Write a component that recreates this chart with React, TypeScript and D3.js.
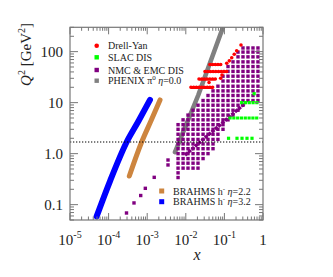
import React from "react";
import * as d3 from "d3";

// ---------- data (x, Q^2) ----------
const BRAHMS_32: [number, number][] = [
  [4.9e-5, 0.059], [1.09e-4, 0.29], [2.94e-4, 1.69], [5.96e-4, 4.36], [1.18e-3, 11.3],
];
const BRAHMS_22: [number, number][] = [
  [3.44e-4, 0.364], [7.19e-4, 1.69], [1.28e-3, 4.56], [2.15e-3, 11.3],
];
const PHENIX: [number, number][] = [
  [5.25e-3, 1.07], [0.0211, 14.1], [0.092, 300],
];
// Drell-Yan rows: [Q2, xmin, xmax]
const DY_ROWS: [number, number, number][] = [
  [20, 0.0136, 0.057], [29, 0.022, 0.0655], [40.7, 0.0314, 0.115], [56, 0.042, 0.094],
];
const DY_POINTS: [number, number][] = [
  [0.04, 24.8], [0.08, 30], [0.0867, 34.8], [0.0977, 40.8], [0.115, 59], [0.134, 66],
  [0.155, 76], [0.18, 89], [0.208, 104], [0.269, 135],
];
// SLAC rows: [Q2, xmin, xmax]
const SLAC_ROWS: [number, number, number][] = [
  [10, 0.28, 0.835], [5, 0.14, 0.755],
];
const SLAC_POINTS: [number, number][] = [
  [0.128, 2], [0.212, 2], [0.286, 2], [0.385, 2], [0.519, 2], [0.59, 15],
];
// NMC & EMC: Q2 bins and columns [x, Q2min, Q2max]
const NMC_Q2_BINS = [
  0.34, 0.42, 0.52, 0.65, 0.8, 1.0, 1.25, 1.55, 1.9, 2.4, 3.0, 3.7, 4.6, 5.7, 7.1, 8.9,
  11, 13.8, 17, 21, 26.5, 33, 41, 51, 63, 79, 98, 118,
];
const NMC_COLUMNS: [number, number, number][] = [
  [0.0063, 0.34, 3.6], [0.0085, 0.5, 5.0], [0.0114, 0.5, 6.5], [0.0154, 0.5, 8.2],
  [0.0207, 0.5, 10.3], [0.028, 0.75, 12.9], [0.0376, 0.94, 15.4], [0.0507, 1.17, 18.5],
  [0.068, 1.8, 24], [0.092, 2.9, 34], [0.124, 4.5, 50], [0.167, 5.7, 70],
  [0.225, 7.1, 100], [0.303, 8.9, 120], [0.408, 11, 120], [0.55, 11, 120], [0.74, 11, 120],
];
const NMC_DIAG: [number, number][] = [[0.0095, 0.935], [0.342, 9.7]];
const NMC_POINTS: [number, number][] = [
  [2.91e-4, 0.0686], [4.55e-4, 0.108], [6.79e-4, 0.151], [8.94e-4, 0.209],
  [1.52e-3, 0.343], [3.46e-3, 0.6], [3.46e-3, 0.75],
];
const MC2 = 1.69;

const X_MAJOR = [1e-5, 1e-4, 1e-3, 1e-2, 1e-1, 1];
const X_EXP = ["-5", "-4", "-3", "-2", "-1", ""];
const Y_MAJOR = [0.1, 1, 10, 100];
const Y_LABELS = ["0.1", "1.0", "10", "100"];

const COLORS = {
  dy: "#ff0000", slac: "#00ff00", nmc: "#800080", phenix: "#808080",
  b22: "#cd853f", b32: "#0000ff",
};

const W = 333, H = 277;
const L = 70, R = 263, T = 27.3, B = 220;
const FONT = "'Liberation Serif', 'DejaVu Serif', serif";
const AX = "#777";
const TXT = "#222";

export default function App() {
  const x = d3.scaleLog().domain([1e-5, 1]).range([L, R]);
  const y = d3.scaleLog().domain([0.05, 300]).range([B, T]);
  const line = d3.line<[number, number]>().x((d) => x(d[0])).y((d) => y(d[1])).curve(d3.curveMonotoneX);
  const seg = d3.line<[number, number]>().x((d) => x(d[0])).y((d) => y(d[1]));

  const isMajor = (v: number) => Math.abs(Math.log10(v) - Math.round(Math.log10(v))) < 1e-6;
  const xt = x.ticks();
  const yt = y.ticks();

  const nmcSquares: [number, number][] = [];
  NMC_COLUMNS.forEach(([cx, qmin, qmax]) => {
    NMC_Q2_BINS.forEach((q) => {
      if (q >= qmin * 0.97 && q <= qmax * 1.03) nmcSquares.push([cx, q]);
    });
  });
  const sq = 3.4;

  return (
    <div style={{ position: "fixed", left: 0, top: 0 }}>
      <svg width={W} height={H} style={{ display: "block", background: "#fff" }} fontFamily={FONT}>
        <defs>
          <clipPath id="frame">
            <rect x={L} y={T} width={R - L} height={B - T} />
          </clipPath>
        </defs>
        <g clipPath="url(#frame)">
          <path d={line(BRAHMS_32) || ""} fill="none" stroke={COLORS.b32} strokeWidth={6} strokeLinecap="round" />
          <path d={line(BRAHMS_22) || ""} fill="none" stroke={COLORS.b22} strokeWidth={5} strokeLinecap="round" />
          <path d={seg(PHENIX) || ""} fill="none" stroke={COLORS.phenix} strokeWidth={4.6} strokeLinecap="round" />
          {nmcSquares.map(([a, b], i) => (
            <rect key={"n" + i} x={x(a) - sq / 2} y={y(b) - sq / 2} width={sq} height={sq} fill={COLORS.nmc} />
          ))}
          {NMC_POINTS.map(([a, b], i) => (
            <rect key={"np" + i} x={x(a) - sq / 2} y={y(b) - sq / 2} width={sq} height={sq} fill={COLORS.nmc} />
          ))}
          <path d={seg(NMC_DIAG) || ""} fill="none" stroke={COLORS.nmc} strokeWidth={3.4} strokeDasharray="3.4 1" />
          {DY_ROWS.map(([q, a, b], i) => (
            <line key={"dr" + i} x1={x(a)} x2={x(b)} y1={y(q)} y2={y(q)} stroke={COLORS.dy}
              strokeWidth={3.6} strokeLinecap="round" strokeDasharray="0.01 2.7" />
          ))}
          {DY_POINTS.map(([a, b], i) => (
            <circle key={"dp" + i} cx={x(a)} cy={y(b)} r={1.8} fill={COLORS.dy} />
          ))}
          {SLAC_ROWS.map(([q, a, b], i) => (
            <line key={"sr" + i} x1={x(a)} x2={x(b)} y1={y(q)} y2={y(q)} stroke={COLORS.slac}
              strokeWidth={3.2} strokeLinecap="square" strokeDasharray="0.01 3.8" />
          ))}
          {SLAC_POINTS.map(([a, b], i) => (
            <rect key={"sp" + i} x={x(a) - 1.6} y={y(b) - 1.6} width={3.2} height={3.2} fill={COLORS.slac} />
          ))}
          <line x1={L} x2={R} y1={y(MC2)} y2={y(MC2)} stroke="#000" strokeWidth={1.1} strokeDasharray="1.3 1.7" />
        </g>

        {/* frame */}
        <rect x={L} y={T} width={R - L} height={B - T} fill="none" stroke={AX} strokeWidth={1.2} />
        {xt.map((v, i) => {
          const len = isMajor(v) ? 7 : 3.5;
          const px = x(v);
          return (
            <g key={"xt" + i} stroke={AX} strokeWidth={1}>
              <line x1={px} x2={px} y1={B} y2={B - len} />
              <line x1={px} x2={px} y1={T} y2={T + len} />
            </g>
          );
        })}
        {yt.map((v, i) => {
          const len = isMajor(v) ? 8 : 4;
          const py = y(v);
          return (
            <g key={"yt" + i} stroke={AX} strokeWidth={1}>
              <line x1={L} x2={L + len} y1={py} y2={py} />
              <line x1={R} x2={R - len} y1={py} y2={py} />
            </g>
          );
        })}

        {/* tick labels */}
        {X_MAJOR.map((v, i) => (
          <text key={"xl" + i} x={x(v)} y={245} textAnchor="middle" fontSize={15} fill={TXT}>
            {X_EXP[i] === "" ? "1" : (
              <>
                10<tspan dy={-7} fontSize={10}>{X_EXP[i]}</tspan>
              </>
            )}
          </text>
        ))}
        {Y_MAJOR.map((v, i) => (
          <text key={"yl" + i} x={63} y={y(v) + 5} textAnchor="end" fontSize={15} fill={TXT}>
            {Y_LABELS[i]}
          </text>
        ))}

        {/* axis titles */}
        <text transform="rotate(-90)" x={-23} y={31} textAnchor="end" fontSize={15} fill={TXT}>
          <tspan fontStyle="italic">Q</tspan>
          <tspan dy={-6} fontSize={10}>2</tspan>
          <tspan dy={6}> [GeV</tspan>
          <tspan dy={-6} fontSize={10}>2</tspan>
          <tspan dy={6}>]</tspan>
        </text>
        <text x={197} y={260} textAnchor="middle" fontSize={16} fontStyle="italic" fill={TXT}>x</text>

        {/* legend top */}
        <g fontSize={10} fill={TXT}>
          <circle cx={96.7} cy={45.7} r={2.3} fill={COLORS.dy} />
          <text x={108} y={49.2}>Drell-Yan</text>
          <rect x={94.5} y={55.1} width={4.4} height={4.4} fill={COLORS.slac} />
          <text x={108} y={60.8}>SLAC DIS</text>
          <rect x={94.5} y={67.8} width={4.4} height={4.4} fill={COLORS.nmc} />
          <text x={108} y={73.5}>NMC &amp; EMC DIS</text>
          <rect x={94.5} y={78.5} width={4.4} height={4.4} fill={COLORS.phenix} />
          <text x={108} y={84.2}>
            PHENIX π<tspan dy={-4} fontSize={7}>0</tspan>
            <tspan dy={4}> </tspan><tspan fontStyle="italic">η</tspan>=0.0
          </text>
        </g>
        {/* legend bottom */}
        <g fontSize={10} fill={TXT}>
          <rect x={159.2} y={188.5} width={5} height={5} fill={COLORS.b22} />
          <text x={173} y={194.5}>
            BRAHMS h<tspan dy={-4} fontSize={7}>-</tspan>
            <tspan dy={4}> </tspan><tspan fontStyle="italic">η</tspan>=2.2
          </text>
          <rect x={159.2} y={199.2} width={5} height={5} fill={COLORS.b32} />
          <text x={173} y={205.2}>
            BRAHMS h<tspan dy={-4} fontSize={7}>-</tspan>
            <tspan dy={4}> </tspan><tspan fontStyle="italic">η</tspan>=3.2
          </text>
        </g>
      </svg>
    </div>
  );
}
